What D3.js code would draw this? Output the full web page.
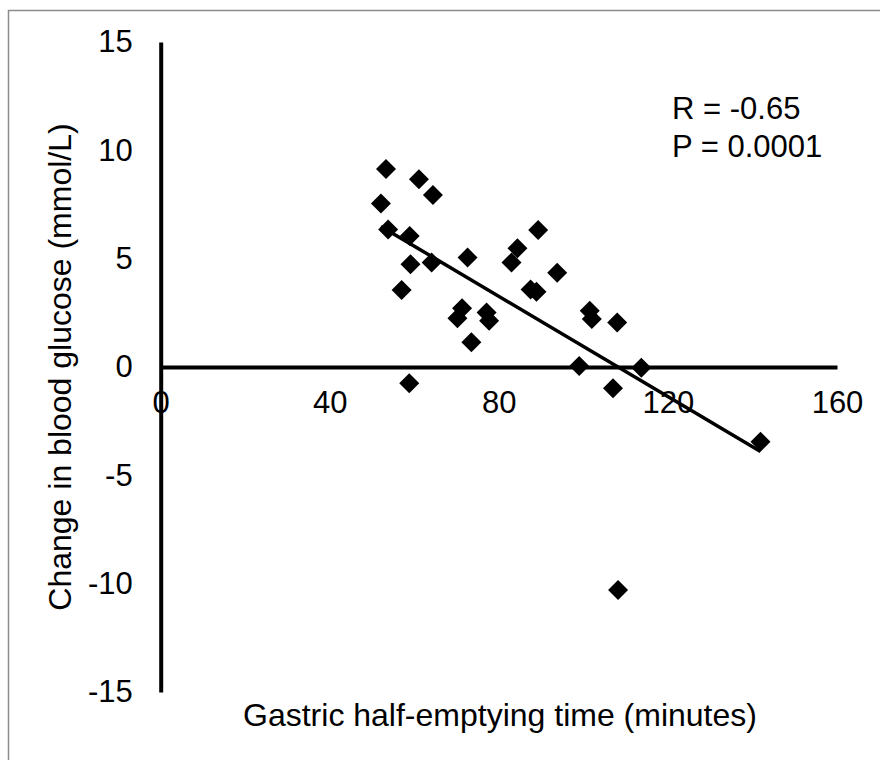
<!DOCTYPE html>
<html>
<head>
<meta charset="utf-8">
<script src="https://cdn.jsdelivr.net/npm/d3@7"></script>
<style>
  body { margin: 0; background: #fff; }
  text { font-family: Arial, "Liberation Sans", sans-serif; fill: #000; }
</style>
</head>
<body>
<svg id="chart" width="880" height="760"></svg>
<script>
// Gastric half-emptying time (minutes)
const emptyingTime = [
    53.3, 61.1, 64.4, 52.1, 53.8, 58.9, 89.3, 84.4, 83.0, 72.6,
    59.1, 64.1, 93.8, 87.5, 88.9, 57.0, 71.3, 70.2, 77.1, 77.7,
    101.5, 102.0, 108.0, 73.5, 99.0, 113.7, 58.8, 107.0, 141.9, 108.2
];
// Change in blood glucose (mmol/L)
const glucoseChange = [
    9.14, 8.66, 7.94, 7.55, 6.35, 6.05, 6.32, 5.48, 4.82, 5.05,
    4.74, 4.82, 4.35, 3.58, 3.47, 3.55, 2.71, 2.25, 2.52, 2.14,
    2.60, 2.22, 2.05, 1.14, 0.05, -0.03, -0.75, -0.98, -3.45, -10.29
];
const xTicks = [0, 40, 80, 120, 160];
const yTicks = [-15, -10, -5, 0, 5, 10, 15];
const statsLines = ["R = -0.65", "P = 0.0001"];

const points = emptyingTime.map((t, i) => ({ x: t, y: glucoseChange[i] }));

const svg = d3.select("#chart");

// outer frame (only left and top edges fall inside the picture)
svg.append("rect")
    .attr("x", 8.5)
    .attr("y", 10.5)
    .attr("width", 900)
    .attr("height", 800)
    .attr("fill", "none")
    .attr("stroke", "#8c8c8c")
    .attr("stroke-width", 1.5);

const x = d3.scaleLinear().domain([0, 160]).range([160.7, 837]);
const y = d3.scaleLinear().domain([-15, 15]).range([692, 42]);

// plain hyphen minus like the original
const fmt = (d) => String(d);

// y axis line (no tick marks)
const yAxis = d3.axisLeft(y).tickValues(yTicks).tickSize(0).tickPadding(28).tickFormat(fmt);
const gy = svg.append("g")
    .attr("transform", `translate(${x(0)},0)`)
    .call(yAxis);
gy.select(".domain").attr("stroke", "#000").attr("stroke-width", 4);
gy.selectAll("text").style("font-size", "31px").attr("font-family", null);

// x axis drawn at y = 0
const xAxis = d3.axisBottom(x).tickValues(xTicks).tickSize(0).tickPadding(24).tickFormat(fmt);
const gx = svg.append("g")
    .attr("transform", `translate(0,${y(0)})`)
    .call(xAxis);
gx.select(".domain").attr("stroke", "#000").attr("stroke-width", 4);
gx.selectAll("text").style("font-size", "31px").attr("font-family", null);

// linear trendline from least squares
const mx = d3.mean(points, (d) => d.x);
const my = d3.mean(points, (d) => d.y);
const slope = d3.sum(points, (d) => (d.x - mx) * (d.y - my)) /
    d3.sum(points, (d) => (d.x - mx) ** 2);
const intercept = my - slope * mx;
const [xMin, xMax] = d3.extent(points, (d) => d.x);

svg.append("line")
    .attr("x1", x(xMin))
    .attr("y1", y(intercept + slope * xMin))
    .attr("x2", x(xMax))
    .attr("y2", y(intercept + slope * xMax))
    .attr("stroke", "#000")
    .attr("stroke-width", 3.5);

// diamond markers
const r = 10;
svg.append("g")
    .selectAll("path")
    .data(points)
    .enter()
    .append("path")
    .attr("transform", (d) => `translate(${x(d.x)},${y(d.y)})`)
    .attr("d", `M0,${-r}L${r},0L0,${r}L${-r},0Z`)
    .attr("fill", "#000");

// axis titles
svg.append("text")
    .attr("x", 500)
    .attr("y", 726)
    .attr("text-anchor", "middle")
    .style("font-size", "32px")
    .text("Gastric half-emptying time (minutes)");

svg.append("text")
    .attr("transform", `translate(71,${y(0)}) rotate(-90)`)
    .attr("text-anchor", "middle")
    .style("font-size", "32px")
    .text("Change in blood glucose (mmol/L)");

// stats annotation
svg.append("g")
    .selectAll("text")
    .data(statsLines)
    .enter()
    .append("text")
    .attr("x", 672)
    .attr("y", (d, i) => 118.5 + i * 38)
    .style("font-size", "31px")
    .text((d) => d);
</script>
</body>
</html>
